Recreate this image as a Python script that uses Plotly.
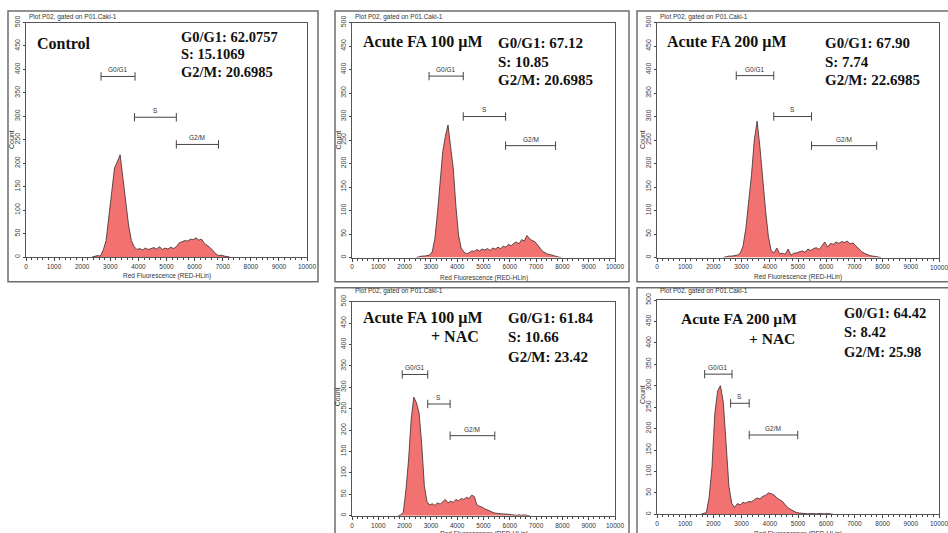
import plotly.graph_objects as go

W, H = 948, 533
BIN = 100

# ---------------- data ----------------
panel_titles = ["Control", "Acute FA 100 µM", "Acute FA 200 µM", "Acute FA 100 µM", "Acute FA 200 µM"]
panel_suffix = ["", "", "", "+ NAC", "+ NAC"]
g0g1_pct = ["62.0757", "67.12", "67.90", "61.84", "64.42"]
s_pct = ["15.1069", "10.85", "7.74", "10.66", "8.42"]
g2m_pct = ["20.6985", "20.6985", "22.6985", "23.42", "25.98"]

x_ticks = [0, 1000, 2000, 3000, 4000, 5000, 6000, 7000, 8000, 9000, 10000]
x_tick_labels = ["0", "1000", "2000", "3000", "4000", "5000", "6000", "7000", "8000", "9000", "10000"]
y_ticks = [0, 50, 100, 150, 200, 250, 300, 350, 400, 450, 500]

# histogram counts (bin width 100, first bin centre given)
hist_start = [2450, 2550, 2450, 1850, 1650]
counts_control = [2, 3, 2, 15, 35, 85, 145, 190, 203, 218, 168, 115, 68, 35, 22, 16, 18, 15, 19, 16,
                  18, 20, 17, 22, 16, 19, 17, 21, 18, 22, 30, 33, 35, 34, 38, 37, 41, 36, 38, 29,
                  25, 20, 14, 7, 3, 4, 2, 1]
counts_fa100 = [2, 3, 3, 4, 5, 12, 40, 95, 160, 225, 258, 282, 235, 190, 110, 48, 20, 12, 8, 10,
                14, 13, 17, 14, 18, 16, 19, 15, 20, 18, 22, 19, 24, 22, 28, 25, 30, 33, 29, 38,
                35, 47, 40, 36, 34, 28, 20, 13, 10, 7, 6, 4, 3, 1]
counts_fa200 = [2, 3, 3, 4, 5, 9, 24, 62, 115, 175, 250, 290, 235, 165, 100, 45, 14, 10, 20, 8,
                9, 7, 18, 5, 9, 10, 12, 14, 11, 18, 15, 19, 21, 17, 25, 33, 22, 30, 28, 33,
                30, 34, 32, 35, 29, 31, 25, 18, 13, 9, 6, 4, 3, 2, 1]
counts_fa100_nac = [2, 8, 60, 130, 225, 277, 264, 240, 168, 70, 33, 25, 28, 24, 30, 27, 32, 38, 30, 34,
                    31, 38, 35, 40, 38, 43, 40, 48, 45, 25, 22, 20, 16, 13, 10, 8, 6, 5, 5, 4,
                    4, 3, 2, 1, 1, 2, 1, 2, 1]
counts_fa200_nac = [2, 4, 40, 110, 235, 288, 300, 262, 166, 65, 26, 16, 25, 22, 28, 26, 30, 29, 34, 38,
                    36, 42, 44, 50, 48, 45, 38, 34, 30, 22, 15, 11, 7, 4, 3, 2, 2, 1, 2, 1,
                    1, 2, 1, 1, 2, 1]
all_counts = [counts_control, counts_fa100, counts_fa200, counts_fa100_nac, counts_fa200_nac]

gate_names = ["G0/G1", "S", "G2/M"]
gate_lo = [[2670, 3860, 5350], [2930, 4230, 5840], [2810, 4140, 5480], [1910, 2880, 3730], [1690, 2610, 3270]]
gate_hi = [[3880, 5350, 6850], [4230, 5840, 7740], [4140, 5480, 7790], [2880, 3730, 5430], [2660, 3270, 4990]]
gate_y = [[385, 298, 240], [386, 300, 238], [387, 300, 238], [330, 261, 187], [327, 259, 185]]

# ---------------- layout (pixels) ----------------
plot_px = [(26, 307, 22.5, 257), (352, 615, 22.5, 257.5), (657, 939, 22.5, 257.5),
           (352, 615, 301.7, 515.7), (657, 939, 300, 514.3)]
frame_px = [(8, 318, 11, 281.7), (335, 629, 11, 281.7), (637, 960, 11, 281.7),
            (335, 629, 287.7, 560), (637, 960, 287.7, 560)]
title_pos = [(35, 43.3), (360.7, 41.7), (665, 41.7), (360.7, 318.3), (679.3, 318.3)]
suffix_pos = [None, None, None, (480.7, 336.7), (796.7, 338.3)]
stats_pos = [(179, [36.7, 54.3, 72.3]), (495.7, [42.7, 61.7, 80]), (823.3, [43.3, 61.7, 80]),
             (505.7, [318.3, 336.7, 356.7]), (842.3, [313.3, 331.7, 351.7])]
stats_size = [14.5, 15, 15, 15, 14.5]
title_size = [16, 16, 16, 16, 15.5]
plotname_pos = [(27, 16.7), (353.3, 17.3), (658, 17.3), (353, 291), (658, 291)]
count_pos = [(11, 140), (337.5, 140), (642, 140), (337.5, 396.7), (642, 395)]
xtitle_y = [276, 278, 276.7, 533.5, 533.5]
edge_label_panels = [2, 4]   # panels whose last x tick label runs past the right edge


def px(x):
    return x / W


def py(y):
    return 1 - y / H


fig = go.Figure()
SERIF = "Liberation Serif, Times New Roman, serif"
SANS = "Liberation Sans, Arial, sans-serif"
annotations = []
shapes = []

for i in range(5):
    ax = "" if i == 0 else str(i + 1)
    xa, ya = "x" + ax, "y" + ax
    counts = all_counts[i]
    xs = [hist_start[i] - BIN] + [hist_start[i] + BIN * k for k in range(len(counts))] + \
         [hist_start[i] + BIN * len(counts)]
    ys = [0] + counts + [0]
    fig.add_trace(go.Scatter(x=xs, y=ys, mode="lines", fill="tozeroy",
                             fillcolor="#F27272", line=dict(color="#3a2a2a", width=0.8),
                             xaxis=xa, yaxis=ya, hoverinfo="skip", showlegend=False))
    for g in range(3):
        lo, hi, gy = gate_lo[i][g], gate_hi[i][g], gate_y[i][g]
        fig.add_trace(go.Scatter(x=[lo, hi], y=[gy, gy], mode="lines+markers",
                                 line=dict(color="#444", width=1),
                                 marker=dict(symbol="line-ns-open", size=6, color="#444",
                                             line=dict(width=1, color="#444")),
                                 xaxis=xa, yaxis=ya, hoverinfo="skip", showlegend=False))
        annotations.append(dict(x=(lo + hi) / 2, y=gy, xref=xa, yref=ya, text=gate_names[g],
                                showarrow=False, yanchor="bottom", yshift=1,
                                font=dict(family=SANS, size=6.5, color="#333")))

    x0, x1, y0, y1 = plot_px[i]
    axis_common = dict(showgrid=False, zeroline=False, showline=True, linecolor="#555",
                       linewidth=1, mirror=True, ticks="outside", tickcolor="#444",
                       automargin=False)
    fig.update_layout(**{
        "xaxis" + ax: dict(domain=[px(x0), px(x1)], range=[0, 10000], tickvals=x_ticks,
                           ticktext=x_tick_labels, anchor=ya, ticklen=3,
                           tickfont=dict(family=SANS, size=6.5, color="#333"),
                           minor=dict(dtick=200, ticklen=2, ticks="outside", tickcolor="#444"),
                           **axis_common),
        "yaxis" + ax: dict(domain=[py(y1), py(y0)], range=[0, 500], tickvals=y_ticks,
                           tickangle=-90, anchor=xa, ticklen=2,
                           tickfont=dict(family=SANS, size=7, color="#444"),
                           **axis_common),
    })
    if i in edge_label_panels:
        annotations.append(dict(x=x_ticks[-1], y=0, xref=xa, yref=ya, text=x_tick_labels[-1],
                                showarrow=False, xanchor="center", yanchor="top", yshift=-4,
                                font=dict(family=SANS, size=6.5, color="#333")))

    fx0, fx1, fy0, fy1 = frame_px[i]
    shapes.append(dict(type="rect", xref="paper", yref="paper", x0=px(fx0), x1=px(fx1),
                       y0=py(fy1), y1=py(fy0), line=dict(color="#6e6e6e", width=1.5)))

    tx, ty = title_pos[i]
    annotations.append(dict(x=px(tx), y=py(ty), xref="paper", yref="paper", xanchor="left",
                            yanchor="middle", showarrow=False, text="<b>" + panel_titles[i] + "</b>",
                            font=dict(family=SERIF, size=title_size[i], color="#111")))
    if suffix_pos[i]:
        sx, sy = suffix_pos[i]
        annotations.append(dict(x=px(sx), y=py(sy), xref="paper", yref="paper", xanchor="right",
                                yanchor="middle", showarrow=False, text="<b>" + panel_suffix[i] + "</b>",
                                font=dict(family=SERIF, size=title_size[i], color="#111")))
    sx, sys_ = stats_pos[i]
    lines = ["G0/G1: " + g0g1_pct[i], "S: " + s_pct[i], "G2/M: " + g2m_pct[i]]
    for k in range(3):
        annotations.append(dict(x=px(sx), y=py(sys_[k]), xref="paper", yref="paper", xanchor="left",
                                yanchor="middle", showarrow=False, text="<b>" + lines[k] + "</b>",
                                font=dict(family=SERIF, size=stats_size[i], color="#111")))
    nx, ny = plotname_pos[i]
    annotations.append(dict(x=px(nx), y=py(ny), xref="paper", yref="paper", xanchor="left",
                            yanchor="middle", showarrow=False, text="Plot P02, gated on P01.Caki-1",
                            font=dict(family=SANS, size=6.5, color="#333")))
    cx, cy = count_pos[i]
    annotations.append(dict(x=px(cx), y=py(cy), xref="paper", yref="paper", xanchor="center",
                            yanchor="middle", showarrow=False, text="Count", textangle=-90,
                            font=dict(family=SANS, size=7, color="#333")))
    annotations.append(dict(x=px((x0 + x1) / 2), y=py(xtitle_y[i]), xref="paper", yref="paper",
                            xanchor="center", yanchor="middle", showarrow=False,
                            text="Red Fluorescence (RED-HLin)",
                            font=dict(family=SANS, size=6.5, color="#333")))

fig.update_layout(width=W, height=H, margin=dict(l=0, r=0, t=0, b=0),
                  paper_bgcolor="white", plot_bgcolor="white", showlegend=False,
                  annotations=annotations, shapes=shapes)

fig.write_html("out.html", config={"displayModeBar": False},
               post_script="document.body.style.margin='0';")
